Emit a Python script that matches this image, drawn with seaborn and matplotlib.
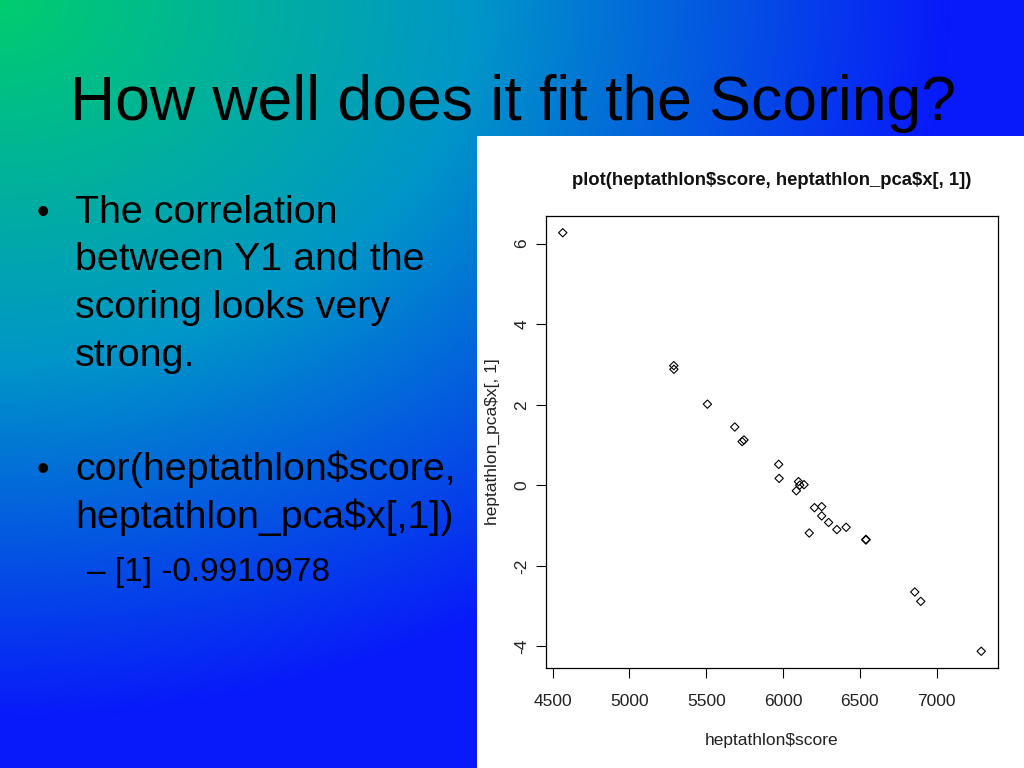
import numpy as np
import pandas as pd
import seaborn as sns
import matplotlib.pyplot as plt
from matplotlib.patches import Rectangle

# heptathlon scores and first principal component
athletes = ['Joyner-Kersee', 'John', 'Behmer', 'Sablovskaite', 'Choubenkova',
            'Schulz', 'Fleming', 'Greiner', 'Lajbnerova', 'Bouraga', 'Wijnsma',
            'Dimitrova', 'Scheider', 'Braun', 'Ruotsalainen', 'Yuping', 'Hagger',
            'Brown', 'Mulliner', 'Hautenauve', 'Kytola', 'Geremias', 'Hui-Ing',
            'Jeong-Mi', 'Launa']
score = [7291, 6897, 6858, 6540, 6540, 6411, 6351, 6297, 6252, 6252, 6205,
         6171, 6137, 6109, 6101, 6087, 5975, 5972, 5746, 5734, 5686, 5508,
         5290, 5289, 4566]
pc1 = [-4.121, -2.882, -2.649, -1.343, -1.359, -1.043, -1.100, -0.923, -0.530,
       -0.760, -0.556, -1.186, 0.015, 0.003, 0.091, -0.137, 0.171, 0.519,
       1.125, 1.085, 1.447, 2.014, 2.880, 2.970, 6.270]

x_ticks = [4500, 5000, 5500, 6000, 6500, 7000]
y_ticks = [-4, -2, 0, 2, 4, 6]

slide_title = 'How well does it fit the Scoring?'
bullet_1 = ['The correlation', 'between Y1 and the', 'scoring looks very', 'strong.']
bullet_2 = ['cor(heptathlon$score,', 'heptathlon_pca$x[,1])']
sub_bullet = '[1] -0.9910978'

df = pd.DataFrame({'athlete': athletes, 'score': score, 'pc1': pc1})

sns.set_theme(style='white')
plt.rcParams['font.family'] = ['Liberation Sans', 'DejaVu Sans']
plt.rcParams['axes.unicode_minus'] = False
plt.rcParams['text.parse_math'] = False

W, H = 1024, 768
fig = plt.figure(figsize=(W / 100, H / 100), dpi=100)

# slide background: gradient from the top-left corner, green -> teal -> blue
bg = fig.add_axes([0, 0, 1, 1])
xx, yy = np.meshgrid(np.arange(W), np.arange(H))
t = np.clip(np.sqrt((xx / 950.0) ** 2 + (yy / 720.0) ** 2), 0, 1)
stops = np.array([0.0, 0.5, 1.0])
cols = np.array([[0, 205, 110], [0, 150, 200], [8, 25, 250]]) / 255
img = np.stack([np.interp(t, stops, cols[:, k]) for k in range(3)], axis=-1)
bg.imshow(img, aspect='auto', extent=[0, W, H, 0])
bg.set_xlim(0, W)
bg.set_ylim(H, 0)
bg.axis('off')

# white panel holding the R plot
bg.add_patch(Rectangle((477, 136), W - 477, H - 136, facecolor='white', edgecolor='none'))

# slide text
bg.text(70, 120, slide_title, fontsize=45, color='black', va='baseline', ha='left')
for i, line in enumerate(bullet_1):
    bg.text(75, 223 + i * 47.5, line, fontsize=28.4, color='black', va='baseline')
bg.text(37, 223, '\u2022', fontsize=26, color='black', va='baseline')
for i, line in enumerate(bullet_2):
    bg.text(75, 480 + i * 48, line, fontsize=28.4, color='black', va='baseline')
bg.text(37, 480, '\u2022', fontsize=26, color='black', va='baseline')
bg.text(87, 581, '\u2013 ' + sub_bullet, fontsize=24, color='black', va='baseline')

# the R style scatter plot
ax = fig.add_axes([546 / W, 1 - 668 / H, 452 / W, 452 / H])
ax.set_facecolor('white')
sns.scatterplot(data=df, x='score', y='pc1', ax=ax, marker='D', s=18,
                facecolor='none', edgecolor='black', linewidth=0.8)

xr = max(score) - min(score)
yr = max(pc1) - min(pc1)
ax.set_xlim(min(score) - 0.04 * xr, max(score) + 0.04 * xr)
ax.set_ylim(min(pc1) - 0.04 * yr, max(pc1) + 0.04 * yr)
ax.set_xticks(x_ticks)
ax.set_yticks(y_ticks)
ax.set_xticklabels([str(v) for v in x_ticks])
ax.set_yticklabels([str(v) for v in y_ticks], rotation=90, va='center')
ax.tick_params(axis='both', direction='out', length=7, width=0.8, color='black',
               labelsize=12.5, labelcolor='#222222', bottom=True, left=True)
ax.tick_params(axis='x', pad=12)
ax.tick_params(axis='y', pad=5)
for sp in ax.spines.values():
    sp.set_color('black')
    sp.set_linewidth(0.9)

ax.set_xlabel('heptathlon$score', fontsize=12.5, color='#222222', labelpad=17)
ax.set_ylabel('heptathlon_pca$x[, 1]', fontsize=12.5, color='#222222', labelpad=10)
ax.set_title('plot(heptathlon$score, heptathlon_pca$x[, 1])', fontsize=13.3,
             fontweight='bold', color='#111111', pad=22)

fig.savefig('out.png', dpi=100)
